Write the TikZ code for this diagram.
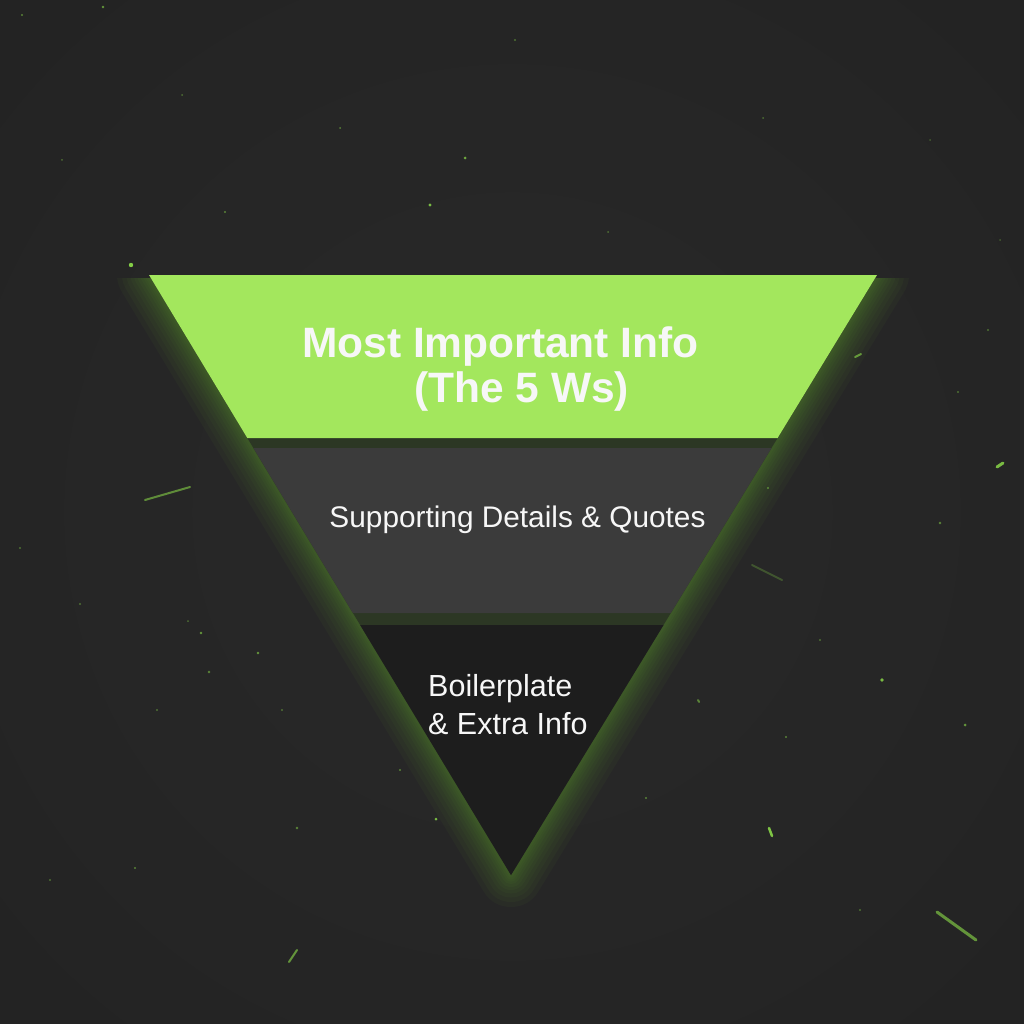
\documentclass[tikz,border=0pt]{standalone}
\usepackage{fontspec}
\setmainfont{Liberation Sans}
\usetikzlibrary{calc}
\definecolor{bgmid}{HTML}{292929}
\definecolor{bgmidb}{HTML}{252525}
\definecolor{bgedge}{HTML}{1F1F1F}
\definecolor{bgcorner}{HTML}{1A1A1A}
\definecolor{topgreen}{HTML}{A3E75D}
\definecolor{midgray}{HTML}{3B3B3B}
\definecolor{lowdark}{HTML}{1D1D1D}
\definecolor{gapolive}{HTML}{2C3724}
\definecolor{glowgreen}{HTML}{7ED63A}
\definecolor{partgreen}{HTML}{8EE04A}
\definecolor{txt}{HTML}{F7F7F7}
\pgfdeclareradialshading{bgshade}{\pgfpoint{0bp}{0bp}}{color(0bp)=(bgmid); color(25bp)=(bgmidb); color(50bp)=(bgedge); color(72bp)=(bgcorner)}
\tikzset{
  dot/.style={fill=partgreen, draw=none},
  streak/.style={draw=partgreen, line cap=round, line width=2pt},
  glowline/.style={draw=glowgreen, line join=round, line cap=round},
  bigtext/.style={text=txt, inner sep=0pt, font=\bfseries\fontsize{42.5}{50}\selectfont},
  midtext/.style={text=txt, inner sep=0pt, font=\fontsize{29.8}{36}\selectfont},
  lowtext/.style={text=txt, inner sep=0pt, font=\fontsize{30.5}{36}\selectfont},
}
\begin{document}
\begin{tikzpicture}[x=1pt,y=-1pt]
\useasboundingbox (0,0) rectangle (1024,1024);
\shade[shading=bgshade] (0,0) rectangle (1024,1024);

% particles
\foreach \px/\py/\r/\o in {131/265/2.2/0.9, 430/205/1.6/0.8, 465/158/1.5/0.7, 515/40/1.2/0.4, 340/128/1.0/0.5, 182/95/1.0/0.4, 22/15/1.2/0.5, 103/7/1.4/0.6, 62/160/1.0/0.4, 225/212/1.1/0.5, 608/232/1.0/0.4, 763/118/1.0/0.4, 882/680/1.8/0.8, 965/725/1.5/0.6, 940/523/1.3/0.5, 988/330/1.1/0.4, 436/819/1.5/0.8, 20/548/1.2/0.4, 80/604/1.2/0.4, 157/710/1.1/0.4, 135/868/1.2/0.5, 297/828/1.3/0.5, 820/640/1.1/0.4, 768/488/1.2/0.5, 930/140/1.0/0.3, 752/360/1.1/0.4, 646/798/1.2/0.5, 786/737/1.1/0.5, 400/770/1.2/0.5, 860/910/1.2/0.4, 50/880/1.1/0.4, 1000/240/1.0/0.3, 958/392/1.1/0.4, 201/633/1.3/0.6, 258/653/1.3/0.6, 209/672/1.3/0.5, 188/621/1.0/0.4, 282/710/1.1/0.4}
  \fill[dot, opacity=\o] (\px,\py) circle (\r);
\draw[streak, opacity=0.55] (145,500) -- (190,487);
\draw[streak, opacity=0.6, line width=3pt] (937,912) -- (976,940);
\draw[streak, opacity=0.6] (289,962) -- (297,950);
\draw[streak, opacity=0.8, line width=3pt] (997,467) -- (1003,463);
\draw[streak, opacity=0.6] (855,357) -- (861,354);
\draw[streak, opacity=0.25] (752,565) -- (782,580);
\draw[streak, opacity=0.85, line width=2.5pt] (769,828) -- (772,836);
\draw[streak, opacity=0.5] (698,700) -- (699,702);

% triangle geometry
\coordinate (TL) at (149,275);
\coordinate (TR) at (877,275);
\coordinate (AP) at (511,875);

% glow along sides, kept below the top edge
\begin{scope}
  \clip (0,278) rectangle (1024,1024);
  \foreach \w in {64,54,45,37,30,24,18,13,9,5} {
    \draw[glowline, line width=\w pt, opacity=0.035] (TL) -- (AP) -- (TR);
  }
\end{scope}
% dark strip in gaps
\fill[gapolive] (TL) -- (TR) -- (AP) -- cycle;

% bands
\fill[topgreen] (149,275) -- (877,275) -- (777.6,438) -- (247.3,438) -- cycle;
\fill[midgray] (253.4,448) -- (771.5,448) -- (670.8,613) -- (352.9,613) -- cycle;
\fill[lowdark] (360.2,625) -- (663.5,625) -- (AP) -- cycle;

% texts
\node[bigtext, anchor=base] (t1) at (500.5,357) {Most Important Info};
\node[bigtext, anchor=base] (t2) at (521.5,402) {(The 5 Ws)};
\node[midtext, anchor=base] (m1) at (517.5,527) {Supporting Details \& Quotes};
\node[lowtext, anchor=base west] (b1) at (428,696) {Boilerplate};
\node[lowtext, anchor=base west] (b2) at (428,734) {\& Extra Info};
\end{tikzpicture}
\end{document}
